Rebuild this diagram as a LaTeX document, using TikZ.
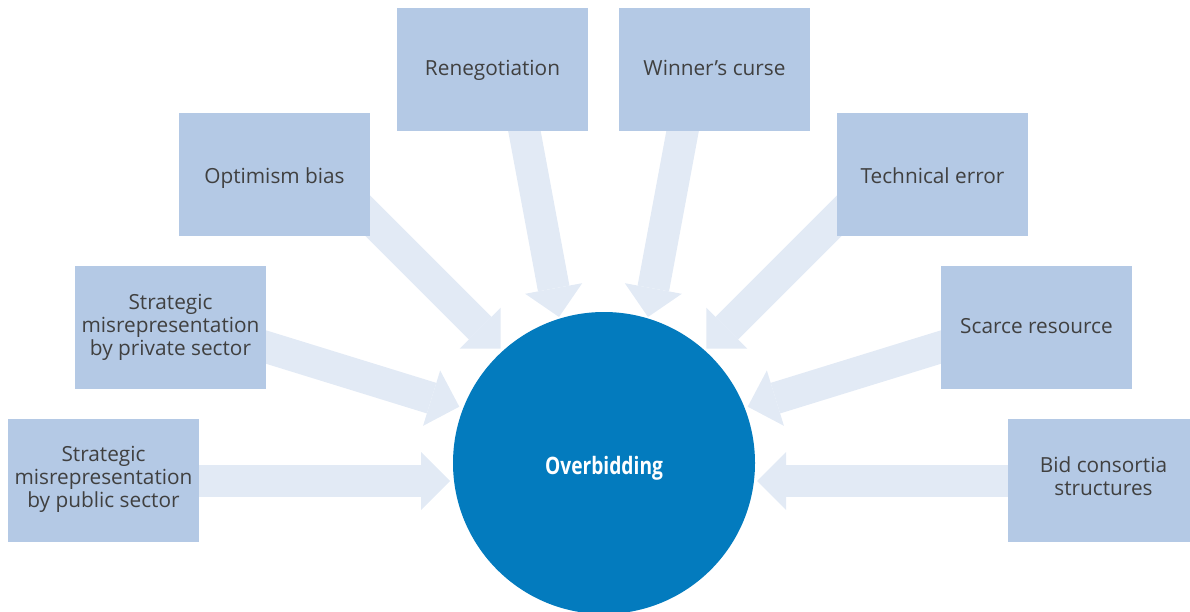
\documentclass[tikz,border=0pt]{standalone}
\usepackage{fontspec}
\setmainfont{Open Sans}
\newfontfamily\ovfont[FakeStretch=0.8]{Open Sans}
\usetikzlibrary{arrows.meta}
\definecolor{boxblue}{RGB}{180,201,229}
\definecolor{arrblue}{RGB}{226,234,245}
\definecolor{circblue}{RGB}{3,123,190}
\definecolor{txtgray}{RGB}{64,64,64}
\begin{document}
\begin{tikzpicture}[x=1pt,y=-1pt,
  factor/.style={fill=boxblue, minimum width=191pt, minimum height=123pt, inner sep=0pt,
    align=center, text=txtgray, font=\fontsize{20.8}{23}\selectfont},
  bigarr/.style={draw=arrblue, line width=32pt,
    -{Triangle[width=58pt,length=29pt,line width=0pt]}},
  hub/.style={circle, fill=circblue, minimum size=302pt, inner sep=0pt, text=white,
    text height=22pt, text depth=0pt,
    font=\ovfont\bfseries\fontsize{24}{28}\selectfont}]
\useasboundingbox (0,0) rectangle (1190,612);

% arrow start and tip points
\coordinate (sPub) at (180,481);     \coordinate (tPub) at (450,481);
\coordinate (sPriv) at (240,339);    \coordinate (tPriv) at (459.3,406.7);
\coordinate (sOpt) at (350,198);     \coordinate (tOpt) at (500.7,348.7);
\coordinate (sRen) at (520.5,110);   \coordinate (tRen) at (559,317);
\coordinate (sWin) at (686.5,110);   \coordinate (tWin) at (648,317);
\coordinate (sTech) at (857,198);    \coordinate (tTech) at (706.3,348.7);
\coordinate (sScar) at (967,339);    \coordinate (tScar) at (747.7,406.7);
\coordinate (sBid) at (1027,481);    \coordinate (tBid) at (757,481);

\draw[bigarr] (sPub) -- (tPub);
\draw[bigarr] (sPriv) -- (tPriv);
\draw[bigarr] (sOpt) -- (tOpt);
\draw[bigarr] (sRen) -- (tRen);
\draw[bigarr] (sWin) -- (tWin);
\draw[bigarr] (sTech) -- (tTech);
\draw[bigarr] (sScar) -- (tScar);
\draw[bigarr] (sBid) -- (tBid);

\node[factor, text depth=8pt] (pub) at (103.5,480.5) {Strategic\\misrepresentation\\by public sector};
\node[factor] (priv) at (170.5,327.5) {Strategic\\misrepresentation\\by private sector};
\node[factor, text height=17.6pt, text depth=0pt] (opt) at (274.5,174.5) {Optimism bias};
\node[factor, text height=13pt, text depth=0pt] (ren) at (492.5,69.5) {Renegotiation};
\node[factor, text height=13pt, text depth=0pt] (win) at (714.5,69.5) {Winner’s curse};
\node[factor, text height=18.6pt, text depth=0pt] (tech) at (932.5,174.5) {Technical error};
\node[factor, text height=11.6pt, text depth=0pt] (scar) at (1036.5,327.5) {Scarce resource};
\node[factor, text depth=8pt] (bid) at (1103.5,480.5) {Bid consortia\\structures};

\node[hub] (ov) at (604,463) {Overbidding};
\end{tikzpicture}
\end{document}
